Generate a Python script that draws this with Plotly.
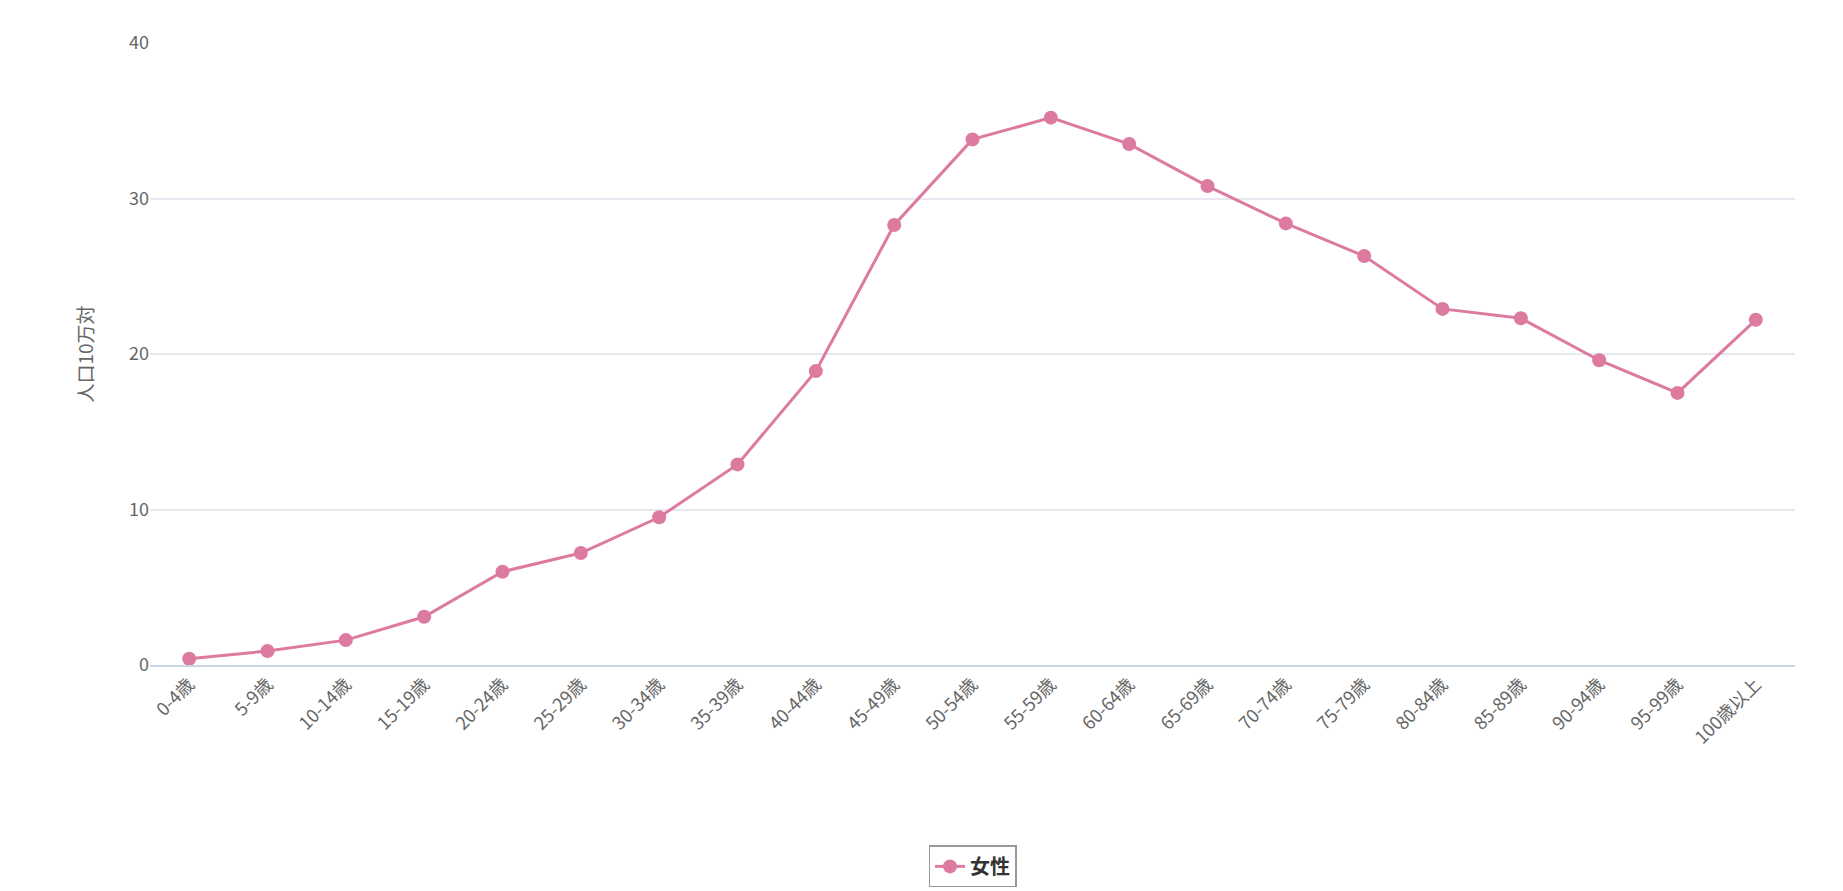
import plotly.graph_objects as go

categories = ["0-4歳","5-9歳","10-14歳","15-19歳","20-24歳","25-29歳","30-34歳","35-39歳","40-44歳","45-49歳","50-54歳","55-59歳","60-64歳","65-69歳","70-74歳","75-79歳","80-84歳","85-89歳","90-94歳","95-99歳","100歳以上"]
female = [0.4,0.9,1.6,3.1,6.0,7.2,9.5,12.9,18.9,28.3,33.8,35.2,33.5,30.8,28.4,26.3,22.9,22.3,19.6,17.5,22.2]

color = "#dd7a9f"
fig = go.Figure(go.Scatter(x=categories, y=female, mode="lines+markers", name="<b>女性</b>",
    line=dict(color=color, width=3), marker=dict(color=color, size=14)))
font = "Noto Sans CJK JP"
fig.update_layout(
    width=1843, height=891, plot_bgcolor="white", paper_bgcolor="white",
    margin=dict(l=142, r=56, t=35, b=201),
    font=dict(family=font, size=18, color="#666"),
    xaxis=dict(tickangle=-45, showgrid=False, showline=True, linecolor="#ccd6eb", linewidth=1.5,
               ticks="", range=[-0.5, 20.5], tickfont=dict(size=18)),
    yaxis=dict(range=[0,40], dtick=10, gridcolor="#e6e9f0", gridwidth=1.5, zeroline=False,
               title=dict(text="人口10万対", font=dict(size=19), standoff=30), tickfont=dict(size=18)),
    showlegend=True,
    legend=dict(orientation="h", x=0.5, xanchor="center", y=-0.29, yanchor="top",
                bordercolor="#999", borderwidth=1.5, font=dict(size=20, color="#333")),
)
fig.write_html("out.html")
